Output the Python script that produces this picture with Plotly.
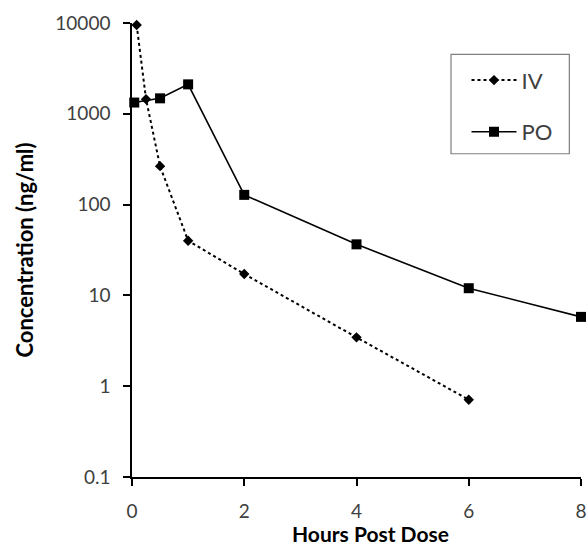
import plotly.graph_objects as go

# Data
iv_time = [0.083, 0.25, 0.5, 1, 2, 4, 6]
iv_conc = [9500, 1450, 265, 40, 17.2, 3.45, 0.71]
po_time = [0.04, 0.5, 1, 2, 4, 6, 8]
po_conc = [1330, 1480, 2110, 128, 36.5, 12, 5.8]

x_ticks = [0, 2, 4, 6, 8]
y_ticks = [0.1, 1, 10, 100, 1000, 10000]
y_tick_labels = ["0.1", "1", "10", "100", "1000", "10000"]

FONT = "Lato"

fig = go.Figure()
fig.add_trace(go.Scatter(
    x=iv_time, y=iv_conc, name="IV", mode="lines+markers",
    line=dict(color="black", width=2, dash="dot"),
    marker=dict(symbol="diamond", size=8, color="black"),
    cliponaxis=False, legendgroup="iv",
))
fig.add_trace(go.Scatter(
    x=po_time, y=po_conc, name="PO", mode="lines+markers",
    line=dict(color="black", width=1.6),
    marker=dict(symbol="square", size=10, color="black"),
    cliponaxis=False, legendgroup="po",
))

axis_common = dict(
    showline=True, linecolor="black", linewidth=1.5,
    ticks="outside", ticklen=7, tickwidth=1.5, tickcolor="black",
    showgrid=False, zeroline=False, automargin=False,
    tickfont=dict(family=FONT, size=19, color="#404040"),
)

fig.update_layout(
    width=588, height=546,
    margin=dict(l=132, r=7, t=23, b=69),
    plot_bgcolor="white", paper_bgcolor="white",
    font=dict(family=FONT, color="black"),
    xaxis=dict(range=[0, 8], tickvals=x_ticks,
               ticklabelstandoff=9,
               **axis_common),
    yaxis=dict(type="log", range=[-1, 4], tickvals=y_ticks, ticktext=y_tick_labels,
               title=dict(text="<b>Concentration (ng/ml)</b>", font=dict(family=FONT, size=22, color="black"), standoff=16),
               ticklabelstandoff=9,
               **axis_common),
    annotations=[dict(text="<b>Hours Post Dose</b>", xref="paper", yref="paper",
                      x=0.532, y=-0.124, xanchor="center", yanchor="middle",
                      showarrow=False, font=dict(family=FONT, size=21, color="black"))],
    showlegend=True,
    legend=dict(x=0.745, y=0.92, xanchor="left", yanchor="top",
                bgcolor="rgba(0,0,0,0)", borderwidth=0,
                font=dict(family=FONT, size=22, color="#404040"),
                itemwidth=45,
                tracegroupgap=20, traceorder="grouped"),
    shapes=[dict(type="rect", xref="paper", yref="paper",
                 x0=0.7105, x1=0.974, y0=0.712, y1=0.931,
                 line=dict(color="#7f7f7f", width=1.2), fillcolor="rgba(0,0,0,0)")],
)

fig.write_html("out.html")
